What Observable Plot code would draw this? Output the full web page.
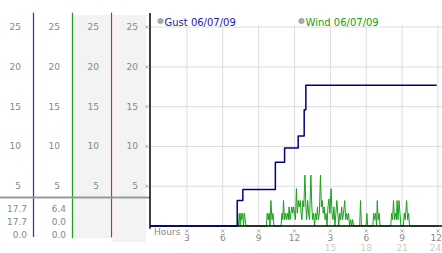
<!DOCTYPE html>
<html><head><meta charset="utf-8">
<script src="https://cdn.jsdelivr.net/npm/d3@7"></script>
<script src="https://cdn.jsdelivr.net/npm/@observablehq/plot@0.6"></script>
<style>
body{margin:0;background:#fff;}
#wrap{position:relative;width:442px;height:253px;overflow:hidden;font-family:"DejaVu Sans";}
#wrap svg{position:absolute;left:0;top:0;background:transparent;}
</style></head><body><div id="wrap"></div>
<script>
// ---- data ----
const gustHours  = [0, 7.21, 7.68, 10.40, 11.17, 12.31, 12.81, 12.95, 23.85];
const gustValues = [0, 3.2, 4.6, 8.0, 9.8, 11.3, 14.6, 17.7, 17.7];

const windHours = [0,7.30,7.38,7.45,7.52,7.58,7.66,7.74,7.80,7.88,7.95,
  9.65,9.72,9.80,9.88,9.95,10.03,10.12,10.20,10.28,
  10.88,10.95,11.02,11.08,11.16,11.24,11.32,11.40,11.48,11.55,11.62,11.70,11.78,11.85,11.92,12.00,
  12.08,12.16,12.24,12.32,12.40,12.48,12.55,12.62,12.70,12.78,12.87,12.95,13.02,13.10,13.18,13.26,
  13.37,13.45,13.52,13.60,13.68,13.76,13.84,13.92,14.00,14.08,14.17,14.25,14.32,14.40,14.48,14.56,
  14.64,14.72,14.80,14.88,14.96,15.06,15.14,15.22,15.30,15.38,15.46,15.54,15.62,15.70,15.78,15.86,
  15.94,16.02,16.10,16.20,16.28,16.36,16.44,16.52,16.60,16.70,16.78,16.86,16.94,
  17.45,17.52,17.60,17.98,18.05,18.12,18.55,18.62,18.70,18.78,18.86,18.92,19.00,19.08,19.16,
  20.05,20.12,20.20,20.28,20.36,20.44,20.52,20.58,20.66,20.74,20.82,20.90,
  21.10,21.18,21.26,21.38,21.46,21.54,21.62,24.0];
const windValues = [0,0,1.6,0,1.6,0.8,1.6,0,1.6,0.8,0,
  0,1.6,0.8,1.6,0,3.2,0.8,1.6,0,
  0,1.6,0.8,3.2,0.8,1.6,0.8,1.6,0.8,2.4,0.8,1.6,2.4,1.6,2.4,1.6,
  0.8,4.7,1.6,3.2,2.4,3.2,1.6,0.8,3.2,2.4,6.4,2.4,0.8,3.2,1.6,0.8,
  6.4,2.4,0.8,1.6,0,1.6,0.8,2.4,0.8,1.6,6.4,2.4,3.2,1.6,2.4,0.8,
  1.6,0,2.4,3.4,1.6,4.7,1.6,0.8,2.4,0,1.6,3.2,1.6,0,1.6,0.8,
  2.4,0.8,1.6,3.2,0.8,1.6,0.8,1.6,0,0.8,0,0.8,0,
  0,3.2,0,0,1.6,0,0,1.6,0.8,1.6,0,3.2,0.8,1.6,0,
  0,1.6,0.8,3.2,0.8,1.6,0.8,3.2,0.8,3.2,1.6,0,
  0,1.6,0.8,3.2,0.8,1.6,0,0];

const yTicks = [5, 10, 15, 20, 25];
const xTicks = [3, 6, 9, 12, 15, 18, 21, 24];
const xTickLabels = ["3", "6", "9", "12", "3", "6", "9", "12"];
const xTicks2 = [15, 18, 21, 24];
const xTickLabels2 = ["15", "18", "21", "24"];
const currentGust = ["17.7", "17.7", "0.0"];
const currentWind = ["6.4", "0.0", "0.0"];
const legendLabels = ["Gust 06/07/09", "Wind 06/07/09"];
const axisTitle = "Hours";

// ---- tables ----
const gust = gustHours.map((h, i) => ({h, v: gustValues[i]}));
const wind = windHours.map((h, i) => ({h, v: windValues[i]}));
const yScale = {domain: [0, 25], range: [225.5, 26.6], axis: null};
const style = {background: "transparent", fontFamily: "DejaVu Sans", fontSize: "9px", overflow: "visible"};

// ---- left value panel ----
const colLabels = [];
for (const c of [1, 2, 3, 4]) for (const v of yTicks) colLabels.push({c, v});
const rowDy = [205, 218.5, 231.5];
const currentMarks = [];
rowDy.forEach((dy, i) => {
  currentMarks.push(Plot.text([{c: 1, t: currentGust[i]}, {c: 2, t: currentWind[i]}],
    {x: "c", text: "t", frameAnchor: "top", dy, dx: -6.5, textAnchor: "end", fill: "#888"}));
});

const left = Plot.plot({
  width: 150, height: 253, margin: 0,
  x: {type: "linear", domain: [0, 4], range: [-6, 150], axis: null},
  y: yScale,
  style,
  marks: [
    Plot.rect([{a: 2, b: 3}], {x1: "a", x2: "b", y1: -1.6, y2: 26.45, insetLeft: 1, insetRight: 1, fill: "#f3f3f3"}),
    Plot.rect([{a: 3, b: 4}], {x1: "a", x2: "b", y1: -2.1, y2: 26.45, insetLeft: 1, insetRight: 4, fill: "#f3f3f3"}),
    Plot.ruleX([1], {y1: -1.45, y2: 26.75, stroke: "#2848a8", strokeWidth: 1.3}),
    Plot.ruleX([2], {y1: -1.6, y2: 26.75, stroke: "#22a022", strokeWidth: 1.3}),
    Plot.ruleX([3], {y1: -1.5, y2: 26.75, stroke: "#b83030", strokeWidth: 1.2}),
    Plot.ruleY([3.58], {x1: 0.15, x2: 4, stroke: "#999", strokeWidth: 2.2}),
    Plot.text(colLabels, {x: "c", y: "v", text: d => String(d.v), dx: -12.5, textAnchor: "end", fill: "#888"}),
    ...currentMarks
  ]
});

// ---- main chart ----
const lastI = xTicks.length - 1, lastJ = xTicks2.length - 1;
const main = Plot.plot({
  width: 442, height: 253, margin: 0,
  x: {domain: [0, 24], range: [150.5, 437.5], axis: null},
  y: yScale,
  style,
  marks: [
    Plot.ruleY(yTicks, {x1: 0, x2: 24.4, stroke: "#ddd"}),
    Plot.ruleX(xTicks, {y1: 0, y2: 25.2, stroke: "#ddd"}),
    Plot.line(wind, {x: "h", y: "v", stroke: "#1aa01a", strokeWidth: 1}),
    Plot.ruleY([0], {x1: 0, x2: 24.4, stroke: "#000", strokeWidth: 1.5}),
    Plot.ruleX([0], {y1: -0.4, y2: 26.7, stroke: "#000", strokeWidth: 1.5, dx: -1}),
    Plot.line(gust, {x: "h", y: "v", curve: "step-after", stroke: "#000080", strokeWidth: 1.5}),
    Plot.dot(yTicks, {x: 0, y: d => d, dx: -4, symbol: "times", r: 1.6, stroke: "#aaa", strokeWidth: 1}),
    Plot.dot(xTicks, {x: d => d, y: 0, dy: 5, symbol: "times", r: 1.6, stroke: "#aaa", strokeWidth: 1}),
    Plot.text(xTicks.slice(0, lastI), {x: d => d, y: 0, text: (d, i) => xTickLabels[i], dy: 12.5, fill: "#888"}),
    Plot.text(xTicks.slice(lastI), {x: d => d, y: 0, text: () => xTickLabels[lastI], dy: 12.5, dx: -1.8, fill: "#888"}),
    Plot.text(xTicks2.slice(0, lastJ), {x: d => d, y: 0, text: (d, i) => xTickLabels2[i], dy: 22, fill: "#ccc"}),
    Plot.text(xTicks2.slice(lastJ), {x: d => d, y: 0, text: () => xTickLabels2[lastJ], dy: 22, dx: -2.5, fill: "#ccc"}),
    Plot.text([axisTitle], {x: 0, y: 0, text: d => d, dx: 3, dy: 6.5, textAnchor: "start", fill: "#888"}),
    Plot.dot([0], {frameAnchor: "top-left", dx: 160, dy: 20.5, r: 2.8, fill: "#aaa", stroke: "#999", strokeWidth: 0.5}),
    Plot.dot([0], {frameAnchor: "top-left", dx: 301, dy: 20.5, r: 2.8, fill: "#aaa", stroke: "#999", strokeWidth: 0.5}),
    Plot.text([legendLabels[0]], {frameAnchor: "top-left", dx: 164, dy: 18.8, text: d => d, textAnchor: "start", fontSize: 10, fill: "#1a1aa0"}),
    Plot.text([legendLabels[1]], {frameAnchor: "top-left", dx: 305, dy: 18.8, text: d => d, textAnchor: "start", fontSize: 10, fill: "#12a012"})
  ]
});

const wrap = document.getElementById("wrap");
wrap.appendChild(left);
wrap.appendChild(main);
</script>
</body></html>
